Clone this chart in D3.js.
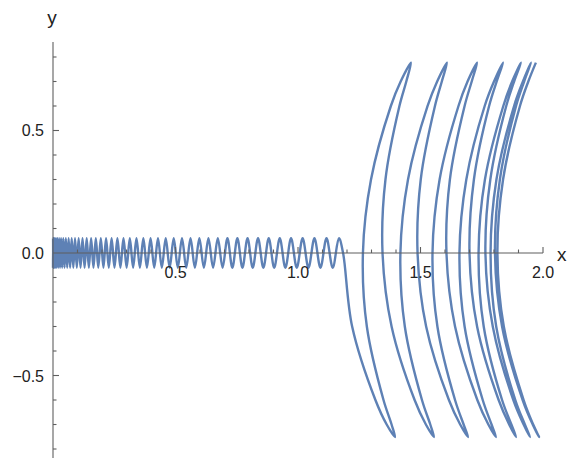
<!DOCTYPE html>
<html>
<head>
<meta charset="utf-8">
<script src="https://cdn.jsdelivr.net/npm/d3@7"></script>
<style>
body { margin: 0; background: #fff; }
svg { display: block; font-family: "Liberation Sans", Arial, sans-serif; }
</style>
</head>
<body>
<svg id="chart"></svg>
<script>
var w = 567;
var h = 458;
var curveColour = '#5E81B5'
var axisColour = '#5f5f5f'

// tick marks and labels
var xMajor = [0.5, 1.0, 1.5, 2.0]
var xLabels = ['0.5', '1.0', '1.5', '2.0']
var yLabelVals = [-0.5, 0.0, 0.5]
var yLabels = ['\u22120.5', '0.0', '0.5']

// small wiggle: x of each extremum, alternating trough / peak
var wiggleAmp = 0.06
var wiggleX = [0.0000, 0.0003, 0.0008, 0.0016, 0.0027, 0.0040, 0.0057, 0.0076, 0.0098, 0.0123,
  0.0150, 0.0180, 0.0213, 0.0250, 0.0288, 0.0330, 0.0374, 0.0421, 0.0471, 0.0524,
  0.0579, 0.0638, 0.0699, 0.0763, 0.0829, 0.0899, 0.0972, 0.1047, 0.1124, 0.1205,
  0.1289, 0.1375, 0.1464, 0.1556, 0.1651, 0.1748, 0.1848, 0.1952, 0.2058, 0.2166,
  0.2277, 0.2392, 0.2509, 0.2629, 0.2751, 0.2877, 0.3005, 0.3136, 0.3270, 0.3407,
  0.3546, 0.3688, 0.3833, 0.3982, 0.4132, 0.4285, 0.4441, 0.4601, 0.4762, 0.4927,
  0.5094, 0.5265, 0.5438, 0.5613, 0.5791, 0.5974, 0.6158, 0.6344, 0.6534, 0.6727,
  0.6922, 0.7120, 0.7321, 0.7526, 0.7732, 0.7941, 0.8152, 0.8369, 0.8586, 0.8806,
  0.9029, 0.9256, 0.9485, 0.9716, 0.9950, 1.0189, 1.0428, 1.0671, 1.0916, 1.1164,
  1.1417, 1.1670]

// big swings: turning points (bottom, top, bottom, ...)
var tipX = [1.396, 1.461, 1.555, 1.608, 1.694, 1.731, 1.808, 1.837, 1.890, 1.910, 1.947, 1.951, 1.984, 1.971]
var tipY = [-0.751, 0.777, -0.751, 0.777, -0.751, 0.777, -0.751, 0.777, -0.751, 0.777, -0.751, 0.777, -0.751, 0.777]

// y levels at which each strand was read
var riseLevels = [-0.7, -0.6, -0.3, 0, 0.3, 0.6, 0.7]
var fallLevels = [0.7, 0.6, 0.3, 0, -0.3, -0.6, -0.7]

// dive from the end of the wiggle down to the first bottom tip (levels 0 .. -0.7)
var leadX = [1.184, 1.221, 1.316, 1.362]

// strands between tips, x at each level
var strandX = [
  [1.382, 1.349, 1.281, 1.265, 1.298, 1.379, 1.419],
  [1.442, 1.414, 1.357, 1.345, 1.382, 1.476, 1.522],
  [1.540, 1.506, 1.436, 1.418, 1.449, 1.529, 1.568],
  [1.587, 1.559, 1.501, 1.488, 1.523, 1.616, 1.662],
  [1.676, 1.641, 1.569, 1.549, 1.578, 1.655, 1.692],
  [1.709, 1.680, 1.620, 1.606, 1.641, 1.732, 1.777],
  [1.790, 1.754, 1.680, 1.659, 1.687, 1.762, 1.800],
  [1.811, 1.780, 1.718, 1.700, 1.731, 1.819, 1.862],
  [1.871, 1.833, 1.758, 1.737, 1.763, 1.838, 1.874],
  [1.882, 1.850, 1.785, 1.765, 1.795, 1.879, 1.921],
  [1.926, 1.887, 1.809, 1.786, 1.810, 1.882, 1.918],
  [1.923, 1.890, 1.824, 1.804, 1.833, 1.917, 1.958],
  [1.960, 1.921, 1.840, 1.814, 1.837, 1.906, 1.940]
]

var x = d3.scaleLinear().domain([0, 2]).range([53, 543])
var y = d3.scaleLinear().domain([-0.8367, 0.8612]).range([458, 42])

var svg = d3.select('#chart')
  .attr('width', w)
  .attr('height', h)
  .attr('viewBox', [0, 0, w, h])

// collect the curve points in drawing order
var pts = []
wiggleX.forEach((v, i) => pts.push([v, i % 2 ? wiggleAmp : -wiggleAmp]))
leadX.forEach((v, j) => pts.push([v, fallLevels[j + 3]]))
tipX.forEach((tx, k) => {
  pts.push([tx, tipY[k]])
  if (k < strandX.length) {
    var levels = (k % 2 == 0) ? riseLevels : fallLevels
    strandX[k].forEach((v, j) => pts.push([v, levels[j]]))
  }
})

var line = d3.line()
  .x(d => x(d[0]))
  .y(d => y(d[1]))
  .curve(d3.curveCatmullRom.alpha(0.5))

svg.append('path')
  .datum(pts)
  .attr('d', line)
  .style('fill', 'none')
  .style('stroke', curveColour)
  .style('stroke-width', 2.4)
  .style('stroke-linejoin', 'round')

// axes drawn on top of the curve
var isMajor = d => Math.abs(d * 2 - Math.round(d * 2)) < 1e-6
var ax = svg.append('g').style('stroke', axisColour).style('stroke-width', 1.1)

ax.append('line')
  .attr('x1', x(0)).attr('x2', x(2))
  .attr('y1', y(0)).attr('y2', y(0))
ax.append('line')
  .attr('x1', x(0)).attr('x2', x(0))
  .attr('y1', y.range()[1]).attr('y2', y.range()[0])

ax.selectAll('.xtick')
  .data(x.ticks(20).filter(d => d > 0.05))
  .enter().append('line')
  .attr('class', 'xtick')
  .attr('x1', d => x(d)).attr('x2', d => x(d))
  .attr('y1', y(0)).attr('y2', d => y(0) - (isMajor(d) ? 6 : 3.5))

ax.selectAll('.ytick')
  .data(y.ticks(20).filter(d => Math.abs(d) > 0.05))
  .enter().append('line')
  .attr('class', 'ytick')
  .attr('y1', d => y(d)).attr('y2', d => y(d))
  .attr('x1', x(0)).attr('x2', d => x(0) + (isMajor(d) ? 6 : 3.5))

svg.selectAll('.xlab')
  .data(xMajor)
  .enter().append('text')
  .attr('class', 'xlab')
  .attr('x', d => x(d))
  .attr('y', y(0) + 24.5)
  .attr('text-anchor', 'middle')
  .style('font-size', '16px')
  .style('fill', '#222')
  .text((d, i) => xLabels[i])

svg.selectAll('.ylab')
  .data(yLabelVals)
  .enter().append('text')
  .attr('class', 'ylab')
  .attr('x', x(0) - 9)
  .attr('y', d => y(d) + 6)
  .attr('text-anchor', 'end')
  .style('font-size', '16px')
  .style('fill', '#222')
  .text((d, i) => yLabels[i])

svg.append('text')
  .attr('x', 557).attr('y', 260.5)
  .style('font-size', '19px')
  .style('fill', '#222')
  .text('x')
svg.append('text')
  .attr('x', 52).attr('y', 24)
  .attr('text-anchor', 'middle')
  .style('font-size', '19px')
  .style('fill', '#222')
  .text('y')
</script>
</body>
</html>
